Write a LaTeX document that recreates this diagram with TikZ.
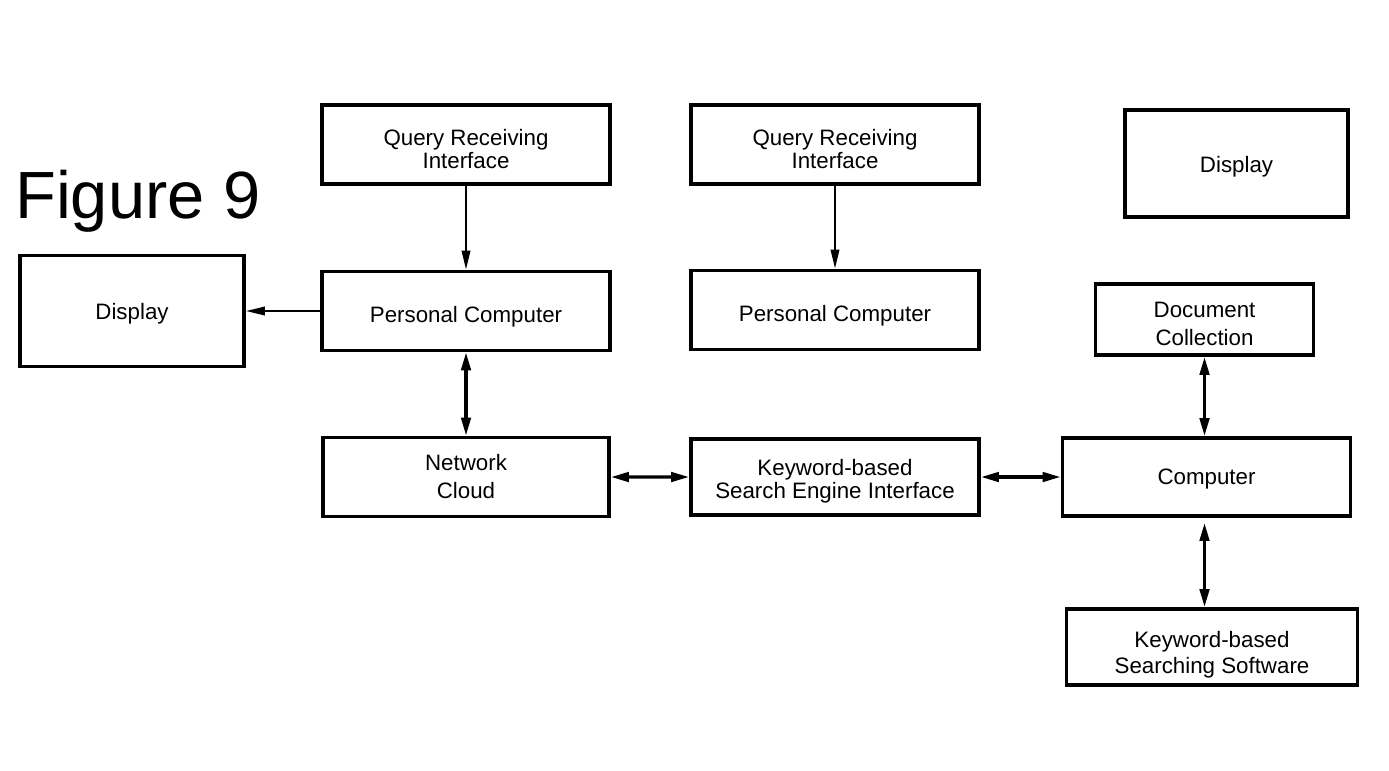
\documentclass[tikz,border=0pt]{standalone}
\usepackage{fontspec}
\setmainfont{Liberation Sans}
\usetikzlibrary{arrows.meta}
\usetikzlibrary{positioning}
\newcommand{\boxfont}[1]{\fontsize{12.7}{#1}\selectfont}

\begin{document}
\begin{tikzpicture}[
    box/.style={draw,line width=2.2pt,align=center,minimum width=5.76cm,minimum height=1.58cm,inner sep=2pt,font=\boxfont{14.2pt},text height=#1,text depth=0pt},
    box/.default=0.44cm,
    link/.style={line width=1.2pt,-{Triangle[length=0.38cm,width=0.17cm]}},
    dlink/.style={line width=1.8pt,{Triangle[length=0.36cm,width=0.19cm]}-{Triangle[length=0.36cm,width=0.19cm]}}]
    \useasboundingbox (0,0) rectangle (27.78,-15.4);

    \node[font=\fontsize{38}{40}\selectfont,anchor=base west,inner sep=0pt] (fig) at (0.30,-4.36) {Figure 9};

    \node[box=0.94cm,font=\boxfont{12.8pt}] (qri1) at (9.32,-2.89) {Query Receiving\\Interface};
    \node[box,yshift=-3.33cm] (pc1) at (qri1) {Personal Computer};
    \node[box=0.84cm,yshift=-3.32cm,minimum width=5.72cm,font=\boxfont{15.9pt}] (net) at (pc1) {Network\\Cloud};
    \node[box=0.34cm,xshift=-6.68cm,minimum width=4.48cm,minimum height=2.22cm] (dispL) at (pc1) {Display};

    \node[box=0.94cm,xshift=7.38cm,font=\boxfont{12.8pt}] (qri2) at (qri1) {Query Receiving\\Interface};
    \node[box,yshift=-3.31cm] (pc2) at (qri2) {Personal Computer};
    \node[box=0.86cm,yshift=-3.34cm,minimum height=1.52cm,font=\boxfont{13.2pt}] (ksei) at (pc2) {Keyword-based\\Search Engine Interface};

    \node[box=0.30cm,xshift=7.43cm,minimum height=1.56cm] (comp) at (ksei) {Computer};
    \node[box=1.02cm,xshift=-0.04cm,yshift=3.15cm,minimum width=4.36cm,minimum height=1.42cm,font=\boxfont{15.9pt}] (doc) at (comp) {Document\\Collection};
    \node[box=1.04cm,xshift=0.11cm,yshift=-3.40cm,minimum width=5.82cm,minimum height=1.52cm,font=\boxfont{14.8pt}] (kss) at (comp) {Keyword-based\\Searching Software};
    \node[box=0.34cm,minimum width=4.46cm,minimum height=2.14cm] (dispR) at (24.73,-3.27) {Display};

    \draw[link] (qri1) -- (pc1);
    \draw[link] (qri2) -- (pc2);
    \draw[link] (pc1) -- (dispL);
    \draw[dlink] (pc1) -- (net);
    \draw[dlink] (net) -- (ksei);
    \draw[dlink] (ksei) -- (comp);
    \draw[dlink] (doc.south) -- (doc.south |- comp.north);
    \draw[dlink,shorten <=0.1cm] (doc.south |- comp.south) -- (doc.south |- kss.north);

\end{tikzpicture}
\end{document}
